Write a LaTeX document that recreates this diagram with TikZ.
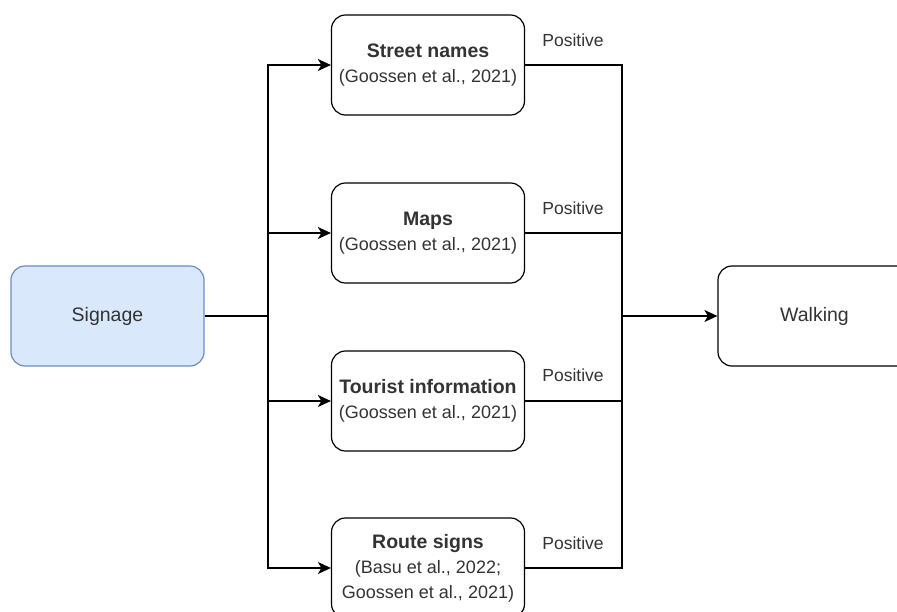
\documentclass[tikz,border=0pt]{standalone}
\usepackage{fontspec}
\setmainfont{Liberation Sans}
\usetikzlibrary{arrows.meta}
\definecolor{txt}{HTML}{333333}
\definecolor{sigfill}{HTML}{DAE8FC}
\definecolor{sigdraw}{HTML}{6C8EBF}
\tikzset{
  box/.style={draw=black, line width=1.2pt, rounded corners=14pt, fill=white,
    minimum width=193pt, minimum height=100pt, inner sep=0pt, align=center,
    text=txt, font=\fontsize{18}{25}\selectfont},
  big/.style={font=\fontsize{19.5}{25}\selectfont},
  wire/.style={draw=black, line width=1.2pt},
  arr/.style={wire, -{Stealth[length=13pt,width=12pt,inset=3.5pt]}},
  lbl/.style={text=txt, font=\fontsize{17.5}{20}\selectfont, inner sep=0pt},
}
\newcommand{\hd}[1]{{\fontsize{19.5}{25}\selectfont\bfseries #1}}
\begin{document}
\begin{tikzpicture}[x=1pt,y=-1pt]
  \useasboundingbox (0,0) rectangle (897,611);
  \clip (0,0) rectangle (897,611);

  % source and target
  \node[box, big, fill=sigfill, draw=sigdraw] (sig) at (107.5,316) {Signage};
  \node[box, big] (walk) at (814.5,316) {Walking};

  % the four kinds of signage
  \node[box] (street) at (428,65) {\hd{Street names}\\(Goossen et al., 2021)};
  \node[box] (maps) at (428,233) {\hd{Maps}\\(Goossen et al., 2021)};
  \node[box] (tour) at (428,401) {\hd{Tourist information}\\(Goossen et al., 2021)};
  \node[box] (route) at (428,568) {\hd{Route signs}\\(Basu et al., 2022;\\Goossen et al., 2021)};

  % junction points of the two buses
  \coordinate (jl) at (268,316);
  \coordinate (jr) at (622,316);

  % fan-out from Signage
  \draw[wire] (sig.east) -- (jl);
  \draw[arr] (jl) |- (street.west);
  \draw[arr] (jl) |- (maps.west);
  \draw[arr] (jl) |- (tour.west);
  \draw[arr] (jl) |- (route.west);

  % fan-in to Walking
  \draw[wire] (street.east) -| (jr);
  \draw[wire] (maps.east) -| (jr);
  \draw[wire] (tour.east) -| (jr);
  \draw[wire] (route.east) -| (jr);
  \draw[arr] (jr) -- (walk.west);

  % effect labels
  \node[lbl] (p1) at (573,40) {Positive};
  \node[lbl] (p2) at (573,208) {Positive};
  \node[lbl] (p3) at (573,375) {Positive};
  \node[lbl] (p4) at (573,543) {Positive};
\end{tikzpicture}
\end{document}
